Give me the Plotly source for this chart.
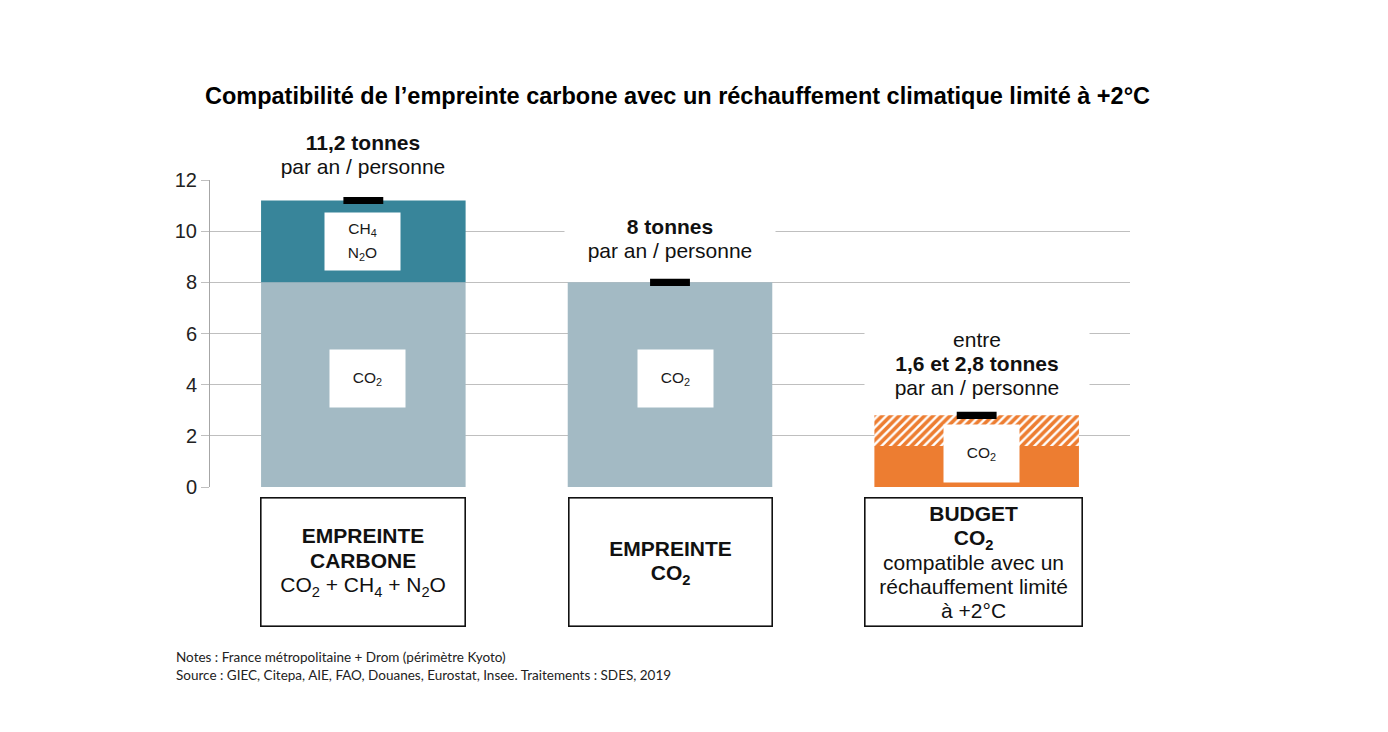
import plotly.graph_objects as go

# ---- data ----
categories = [0, 1, 2]
category_labels = [
    "<b>EMPREINTE</b><br><b>CARBONE</b><br>CO<sub>2</sub> + CH<sub>4</sub> + N<sub>2</sub>O",
    "<b>EMPREINTE</b><br><b>CO<sub>2</sub></b>",
    "<b>BUDGET</b><br><b>CO<sub>2</sub></b><br>compatible avec un<br>réchauffement limité<br>à +2°C",
]
co2_values = [8.0, 8.0]            # empreinte carbone (CO2 part), empreinte CO2
other_ghg_values = [3.2]           # CH4 + N2O part of empreinte carbone
budget_low = [1.6]
budget_high = [2.8]
totals = [11.2, 8.0, 2.8]
total_labels = [
    "<b>11,2 tonnes</b><br>par an / personne",
    "<b>8 tonnes</b><br>par an / personne",
    "entre<br><b>1,6 et 2,8 tonnes</b><br>par an / personne",
]
yticks = [0, 2, 4, 6, 8, 10, 12]

# ---- style ----
C_CO2 = "#a3bac4"
C_OTHER = "#38859a"
C_ORANGE = "#ed7d31"
FONT = "Liberation Sans, Arial, sans-serif"
BAR_W = 0.667
MARK_W = 0.13
MARK_H = 0.28


def big(text, px):
    """wrap each line in a span so glyphs are larger than the line spacing base"""
    return "<br>".join(f"<span style='font-size:{px}px'>{ln}</span>" for ln in text.split("<br>"))


fig = go.Figure()
fig.add_bar(x=categories[:2], y=co2_values, base=[0, 0], width=BAR_W,
            marker=dict(color=C_CO2, line=dict(width=0)), hoverinfo="skip")
fig.add_bar(x=categories[:1], y=other_ghg_values, base=co2_values[:1], width=BAR_W,
            marker=dict(color=C_OTHER, line=dict(width=0)), hoverinfo="skip")
fig.add_bar(x=categories[2:], y=budget_low, base=[0], width=BAR_W,
            marker=dict(color=C_ORANGE, line=dict(width=0)), hoverinfo="skip")
fig.add_bar(x=categories[2:], y=[h - l for h, l in zip(budget_high, budget_low)],
            base=budget_low, width=BAR_W,
            marker=dict(color="white", line=dict(width=0),
                        pattern=dict(shape="/", fgcolor=C_ORANGE, bgcolor="white",
                                     fgopacity=1, size=6, solidity=0.6)),
            hoverinfo="skip")
# black markers at each total
fig.add_bar(x=categories, y=[MARK_H] * 3, base=[t - MARK_H / 2 for t in totals],
            width=MARK_W, marker=dict(color="black", line=dict(width=0)), hoverinfo="skip")

annotations = []
# labels inside bars
inner = [
    (0, co2_values[0] / 2, "CO<sub>2</sub>", 4, 6),
    (0, co2_values[0] + other_ghg_values[0] / 2, "CH<sub>4</sub><br>N<sub>2</sub>O", -1, 0),
    (1, co2_values[1] / 2, "CO<sub>2</sub>", 5, 6),
    (2, budget_high[0] / 2, "CO<sub>2</sub>", 5, -2),
]
for x, y, t, xs, ys in inner:
    annotations.append(dict(x=x, y=y, xref="x", yref="y", text=big(t, 15.5), showarrow=False,
                            xanchor="center", yanchor="middle",
                            bgcolor="white", width=75, height=57, borderpad=0,
                            xshift=xs, yshift=ys,
                            font=dict(family=FONT, size=18, color="#1a1a1a")))
# totals above bars
shifts = [18, 16, 12]
widths = [204, 204, 218]
for x, tot, lab, s, w in zip(categories, totals, total_labels, shifts, widths):
    annotations.append(dict(x=x, y=tot, xref="x", yref="y", text=big(lab, 21), showarrow=False,
                            xanchor="center", yanchor="bottom", yshift=s, bgcolor="white",
                            width=w, borderpad=3,
                            font=dict(family=FONT, size=18.5, color="#111111")))
# category boxes below
box_w = [203, 202, 216]
box_xs = [0, 0, -3]
for x, lab, w, xs in zip(categories, category_labels, box_w, box_xs):
    annotations.append(dict(x=x, y=(487 - 562) / 307, xref="x", yref="paper", text=big(lab, 21),
                            showarrow=False, xanchor="center", yanchor="middle",
                            width=w, height=127, borderpad=0, borderwidth=1.6,
                            bordercolor="#111111", bgcolor="white", xshift=xs,
                            font=dict(family=FONT, size=18.8, color="#111111")))
# notes
annotations.append(dict(
    x=(174 - 210) / 920, y=(487 - 647) / 307, xref="paper", yref="paper",
    xanchor="left", yanchor="top", align="left", showarrow=False,
    text="Notes : France métropolitaine + Drom (périmètre Kyoto)<br>"
         "Source : GIEC, Citepa, AIE, FAO, Douanes, Eurostat, Insee. Traitements : SDES, 2019",
    font=dict(family="Lato, Open Sans, sans-serif", size=13.5, color="#222222")))

fig.update_layout(
    width=1388, height=732,
    margin=dict(l=210, r=258, t=180, b=245, autoexpand=False),
    paper_bgcolor="white", plot_bgcolor="white",
    barmode="overlay", showlegend=False,
    title=dict(text="<b>Compatibilité de l’empreinte carbone avec un réchauffement climatique limité à +2°C</b>",
               x=677.5 / 1388, xanchor="center", y=1 - 96 / 732, yanchor="middle",
               font=dict(family=FONT, size=23.5, color="black")),
    annotations=annotations,
    xaxis=dict(range=[-0.5, 2.5], showticklabels=False, showgrid=False, zeroline=False,
               showline=False, ticks=""),
    yaxis=dict(range=[0, 12], tickvals=yticks, showgrid=True, gridcolor="#bfbfbf", gridwidth=1,
               zeroline=False, showline=True, linecolor="#a6a6a6", linewidth=1,
               ticks="outside", ticklen=8, tickcolor="#bfbfbf",
               tickfont=dict(family=FONT, size=20, color="#222222")),
)

fig.write_html("out.html", config={"displayModeBar": False},
               post_script="document.body.style.margin='0';document.body.style.overflow='hidden';")
